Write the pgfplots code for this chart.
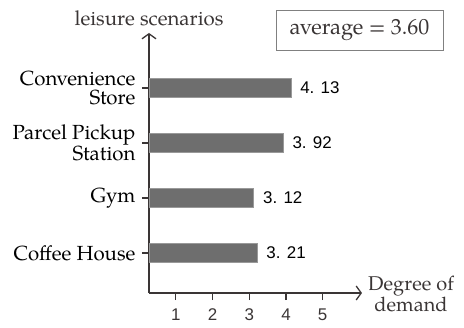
\documentclass[border=0pt]{standalone}
\usepackage{fontspec}
\setmainfont{TeX Gyre Pagella}
\newfontfamily\numfont{Liberation Sans}
\usepackage{pgfplots}
\pgfplotsset{compat=1.18}
\usetikzlibrary{arrows.meta}
\definecolor{axisgray}{HTML}{3A3535}
\definecolor{bargray}{HTML}{6E6E6E}
\begin{document}
\begin{tikzpicture}[x=1bp,y=1bp]
\path[use as bounding box] (0,0) rectangle (464bp,328bp);
\begin{axis}[
  at={(149bp,35bp)}, anchor=south west,
  scale only axis, width=213bp, height=260bp,
  xmin=0.27, xmax=6.07, ymin=-0.727, ymax=4.0,
  axis lines=left,
  axis line style={axisgray, line width=1.3pt, -{Straight Barb[length=5bp,width=14bp,line width=1.3pt]}},
  xtick={1,2,3,4,5},
  ytick={0,1,2,3},
  yticklabels={Coffee House, Gym, {Parcel Pickup\\Station}, {Convenience\\Store}},
  tick align=outside,
  major tick length=7bp,
  tick style={axisgray, line width=1.3pt},
  xticklabel style={font=\numfont\fontsize{17}{20}\selectfont, text=axisgray, yshift=-5bp, /pgf/number format/assume math mode=true},
  yticklabel style={font=\fontsize{20.5}{20}\selectfont, align=right, text=black, xshift=-3bp},
  xbar, bar width=19bp,
  point meta=explicit symbolic,
  nodes near coords,
  nodes near coords style={font=\numfont\fontsize{17}{20}\selectfont, text=black, anchor=west, xshift=6bp},
  clip=false,
]
\addplot[fill=bargray, draw=bargray!70] coordinates {
  (3.21,0) [3. 21]
  (3.12,1) [3. 12]
  (3.92,2) [3. 92]
  (4.13,3) [4. 13]
};
\end{axis}
\node[font=\fontsize{20.5}{22}\selectfont, text=axisgray] at (149bp,310bp) {leisure scenarios};
\node[font=\fontsize{20}{21}\selectfont, text=axisgray, align=center] at (411bp,34bp) {Degree of\\demand};
\node[draw=gray, line width=0.8pt, minimum width=167bp, minimum height=40bp, font=\fontsize{22}{24}\selectfont, text=axisgray] at (359.5bp,298bp) {average = 3.60};
\end{tikzpicture}
\end{document}
